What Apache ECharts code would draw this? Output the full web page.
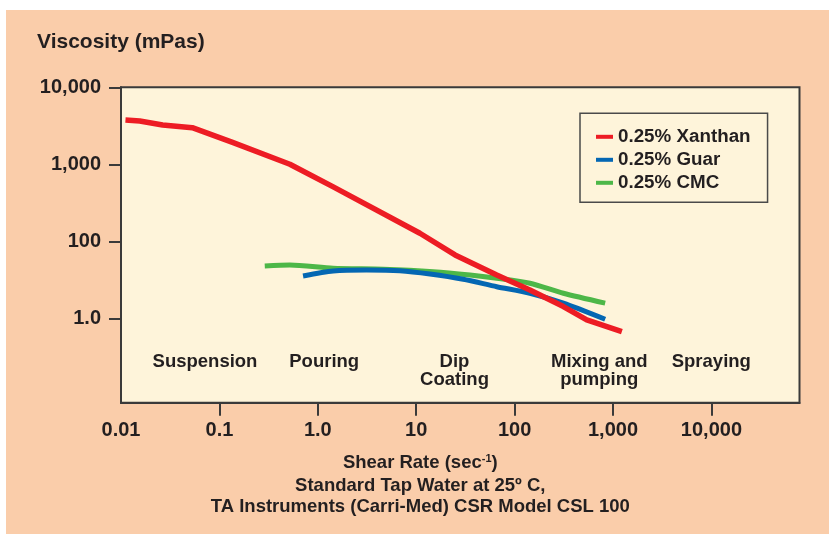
<!DOCTYPE html>
<html><head><meta charset="utf-8">
<script src="https://cdn.jsdelivr.net/npm/echarts@6/dist/echarts.min.js"></script>
<style>
html,body{margin:0;padding:0;background:#ffffff;}
#bg{position:absolute;left:6px;top:10px;width:823px;height:524px;background:#FACDAA;}
#chart{position:absolute;left:0;top:0;width:829px;height:534px;}
</style></head><body>
<div id="bg"></div><div id="chart"></div>
<script>
// ---- data ----
const seriesNames = ['0.25% Xanthan', '0.25% Guar', '0.25% CMC'];

const xanthanShear = [0.0111, 0.0155, 0.0265, 0.053, 0.136, 0.52, 1.42, 10.9, 24.8, 65.8, 143, 313, 541, 1230];
const xanthanVisc  = [3760, 3650, 3240, 2990, 1930, 1000, 512, 127, 66.4, 36.5, 23.3, 14.2, 9.5, 6.7];

const guarShear = [0.708, 1.43, 3.13, 6.82, 13.8, 30.1, 65.8, 143, 313, 832];
const guarVisc  = [35.4, 41.1, 42.4, 41.5, 37.6, 32.1, 25.7, 21.1, 15.7, 9.7];

const cmcShear = [0.289, 0.519, 1.43, 4.62, 14.9, 35.2, 65.8, 143, 313, 832];
const cmcVisc  = [47.8, 49.2, 44.6, 43.3, 40.3, 36.5, 33.1, 28.5, 21.1, 15.7];

const xTickValues = [0.01, 0.1, 1, 10, 100, 1000, 10000];
const xTickLabels = ['0.01', '0.1', '1.0', '10', '100', '1,000', '10,000'];
const yTickValues = [10, 100, 1000, 10000];
const yTickLabels = ['1.0', '100', '1,000', '10,000'];

const yAxisTitle = 'Viscosity (mPas)';
const xTitleMain = 'Shear Rate (sec';
const xTitleSup = '-1';
const xTitleEnd = ')';
const xTitleLine2 = 'Standard Tap Water at 25º C,';
const xTitleLine3 = 'TA Instruments (Carri-Med) CSR Model CSL 100';
const regionLabels = ['Suspension', 'Pouring', 'Dip\nCoating', 'Mixing and\npumping', 'Spraying'];

// ---- styles / layout ----
const FONT = '"Liberation Sans", Arial, Helvetica, sans-serif';
const INK = '#231F20';
const AXIS = '#3a3a3a';
const PLOT_BG = '#FEF4DA';
const COLORS = { xanthan: '#ED1C24', guar: '#0467B3', cmc: '#4DB748' };
const regionPos = [[205, 362.3], [324.2, 362.3], [454.5, 371.2], [599.3, 371.2], [711.3, 362.3]];

function pairs(xs, ys) { return xs.map((x, i) => [x, ys[i]]); }
function lookup(values, labels, v) {
  for (let i = 0; i < values.length; i++) {
    if (Math.abs(Math.log10(v) - Math.log10(values[i])) < 1e-6) return labels[i];
  }
  return '';
}

const chart = echarts.init(document.getElementById('chart'), null, { renderer: 'canvas' });

const labelStyle = { fontSize: 20, fontWeight: 'bold', color: INK, fontFamily: FONT };

const option = {
  backgroundColor: 'transparent',
  animation: false,
  grid: {
    left: 121, right: 29.5, top: 87.3, bottom: 131.3,
    show: true, backgroundColor: PLOT_BG, borderColor: AXIS, borderWidth: 2,
    outerBoundsMode: 'none', containLabel: false
  },
  xAxis: {
    type: 'log', logBase: 10, min: 0.01, max: 78520,
    axisLine: { show: true, onZero: false, lineStyle: { color: AXIS, width: 2 } },
    axisTick: { show: true, inside: false, length: 13, lineStyle: { color: AXIS, width: 2 }, customValues: xTickValues.slice(1) },
    axisLabel: Object.assign({ customValues: xTickValues, margin: 18, hideOverlap: false, showMinLabel: true, showMaxLabel: true,
      formatter: v => lookup(xTickValues, xTickLabels, v) }, labelStyle),
    splitLine: { show: false }, minorTick: { show: false }, minorSplitLine: { show: false }
  },
  yAxis: {
    type: 'log', logBase: 10, min: 0.8, max: 10000,
    axisLine: { show: true, onZero: false, lineStyle: { color: AXIS, width: 2 } },
    axisTick: { show: true, inside: false, length: 12, lineStyle: { color: AXIS, width: 2 }, customValues: yTickValues },
    axisLabel: Object.assign({ customValues: yTickValues, margin: 20, hideOverlap: false, showMinLabel: true, showMaxLabel: true,
      formatter: v => lookup(yTickValues, yTickLabels, v) }, labelStyle),
    splitLine: { show: false }, minorTick: { show: false }, minorSplitLine: { show: false }
  },
  legend: {
    data: seriesNames, orient: 'vertical', left: 580, top: 113.3,
    padding: [14, 17, 10, 16], itemWidth: 17, itemHeight: 4, itemGap: 4, icon: 'rect',
    backgroundColor: PLOT_BG, borderColor: '#4a4a4a', borderWidth: 1.5, selectedMode: false,
    textStyle: { fontSize: 18.8, fontWeight: 'bold', color: INK, fontFamily: FONT, lineHeight: 19 }
  },
  series: [
    { name: seriesNames[2], type: 'line', data: pairs(cmcShear, cmcVisc), symbol: 'none', smooth: 0.25,
      color: COLORS.cmc, lineStyle: { width: 5, color: COLORS.cmc, cap: 'butt', join: 'round' }, z: 2 },
    { name: seriesNames[1], type: 'line', data: pairs(guarShear, guarVisc), symbol: 'none', smooth: 0.25,
      color: COLORS.guar, lineStyle: { width: 5, color: COLORS.guar, cap: 'butt', join: 'round' }, z: 3 },
    { name: seriesNames[0], type: 'line', data: pairs(xanthanShear, xanthanVisc), symbol: 'none', smooth: false,
      color: COLORS.xanthan, lineStyle: { width: 5.5, color: COLORS.xanthan, cap: 'butt', join: 'round' }, z: 4 }
  ],
  graphic: [
    { type: 'text', x: 37, y: 42.7, style: { text: yAxisTitle, align: 'left', verticalAlign: 'middle',
      font: 'bold 21px ' + FONT, fill: INK } },
    { type: 'text', x: 420.3, y: 463.3, style: {
      text: '{m|' + xTitleMain + '}{s|' + xTitleSup + '}{m|' + xTitleEnd + '}',
      align: 'center', verticalAlign: 'middle',
      rich: { m: { font: 'bold 18.5px ' + FONT, fill: INK, lineHeight: 19 },
              s: { font: 'bold 11px ' + FONT, fill: INK, verticalAlign: 'top', lineHeight: 11 } },
      font: 'bold 18.5px ' + FONT, fill: INK } },
    { type: 'text', x: 420.3, y: 485.5, style: { text: xTitleLine2, align: 'center', verticalAlign: 'middle',
      font: 'bold 18.5px ' + FONT, fill: INK } },
    { type: 'text', x: 420.3, y: 507, style: { text: xTitleLine3, align: 'center', verticalAlign: 'middle',
      font: 'bold 18.5px ' + FONT, fill: INK } }
  ].concat(regionLabels.map((t, i) => ({
    type: 'text', x: regionPos[i][0], y: regionPos[i][1], z: 10,
    style: { text: t, align: 'center', verticalAlign: 'middle', font: 'bold 18.5px ' + FONT, fill: INK, lineHeight: 18 }
  })))
};
chart.setOption(option);
</script>
</body></html>
